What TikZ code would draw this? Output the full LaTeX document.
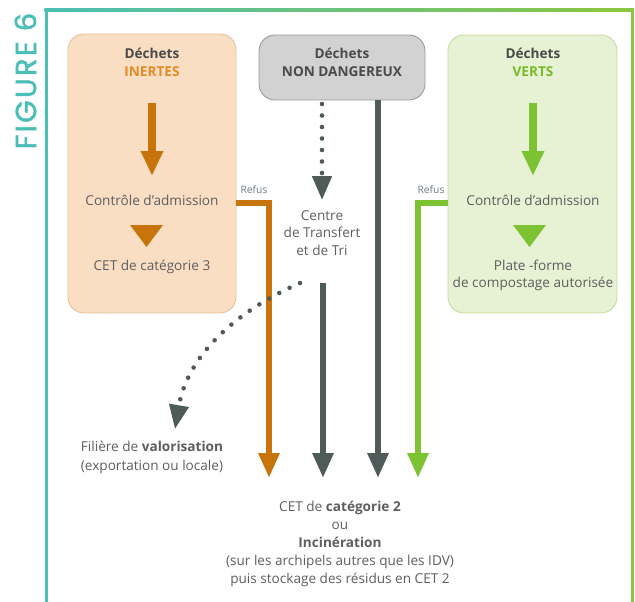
\documentclass[tikz,border=0pt]{standalone}
\usepackage{fontspec}
\setmainfont{Open Sans}
\newfontfamily\figfont{Poppins}[FakeBold=1.6, LetterSpace=8]
\usetikzlibrary{arrows.meta}
\definecolor{teal6}{HTML}{4BBFB5}
\definecolor{green6}{HTML}{8CC63F}
\definecolor{orangeA}{HTML}{C8740C}
\definecolor{orangeT}{HTML}{E38A24}
\definecolor{greenA}{HTML}{7CC233}
\definecolor{greenT}{HTML}{7AB929}
\definecolor{grayA}{HTML}{4F5B59}
\definecolor{txt}{HTML}{5E5E5E}
\definecolor{head}{HTML}{4A4A4A}
\definecolor{refus}{HTML}{6B7C88}
\definecolor{peach}{HTML}{F9DEC4}
\definecolor{peachB}{HTML}{E3C29C}
\definecolor{grayF}{HTML}{D3D2D2}
\definecolor{grayB}{HTML}{9C9C9C}
\definecolor{lgreen}{HTML}{E7F1D3}
\definecolor{lgreenB}{HTML}{C6DBA2}
\tikzset{
  box/.style={draw, line width=0.9pt, rounded corners=16pt, inner sep=0pt},
  lbl/.style={font=\fontsize{13.6}{17.5}\selectfont, text=txt, align=center, inner sep=0pt},
  hd/.style={font=\bfseries\fontsize{13.6}{18.5}\selectfont, text=head, align=center, inner sep=0pt},
  refuslbl/.style={font=\fontsize{10.3}{12}\selectfont, text=refus, inner sep=0pt},
  flow/.style={line width=6pt, -{Triangle[width=20pt,length=25pt]}},
  inner/.style={line width=8pt, -{Triangle[width=21pt,length=25pt]}},
  dots/.style={line width=4.6pt, line cap=round, dash pattern=on 0pt off 11.5pt, -{Triangle[width=19pt,length=24pt]}}
}
\begin{document}
\begin{tikzpicture}[x=1pt,y=-1pt]
\useasboundingbox (0,0) rectangle (635,602);
% frame
\shade[left color=teal6, right color=green6] (44.5,8.5) rectangle (633.5,11.5);
\fill[teal6] (44.5,8.5) rectangle (47.5,602);
\fill[green6] (630.5,8.5) rectangle (633.5,602);
\node[rotate=90, font=\figfont\fontsize{29}{29}\selectfont, text=teal6, inner sep=0pt] (fig) at (25.5,81) {FIGURE 6};
% boxes
\node[box, fill=peach, draw=peachB, minimum width=168pt, minimum height=279pt] (inertes) at (152,173.5) {};
\node[box, fill=grayF, draw=grayB, minimum width=166pt, minimum height=65pt] (nd) at (342,67.5) {};
\node[box, fill=lgreen, draw=lgreenB, minimum width=169pt, minimum height=278pt] (verts) at (532.5,174) {};
% headings
\node[hd] (h1) at (152,62.5) {Déchets\\\textcolor{orangeT}{INERTES}};
\node[hd] (h2) at (342,62.5) {Déchets\\NON DANGEREUX};
\node[hd] (h3) at (533,62.5) {Déchets\\\textcolor{greenT}{VERTS}};
% inner texts
\node[lbl] (c1) at (152,200) {Contrôle d'admission};
\node[lbl] (cet3) at (152,267) {CET de catégorie 3};
\node[lbl] (c3) at (533,200) {Contrôle d'admission};
\node[lbl] (pf) at (533,275.5) {Plate -forme\\de compostage autorisée};
\node[lbl] (ctt) at (322,233) {Centre\\de Transfert\\et de Tri};
\node[lbl, font=\fontsize{13.6}{19}\selectfont] (fil) at (152,457.5) {Filière de \textbf{valorisation}\\(exportation ou locale)};
\node[lbl, font=\fontsize{13.6}{18.2}\selectfont] (cet2) at (340,544) {CET de \textbf{catégorie 2}\\ou\\\textbf{Incinération}\\(sur les archipels autres que les IDV)\\puis stockage des résidus en CET 2};
\node[refuslbl] (r1) at (254,189.5) {Refus};
\node[refuslbl] (r2) at (431,189.5) {Refus};
% coordinates
\coordinate (i1) at (152,103);
\coordinate (i2) at (152,176);
\coordinate (v1) at (533,103);
\coordinate (v2) at (533,176);
\coordinate (o1) at (236,203);
\coordinate (o2) at (269,478);
\coordinate (g1) at (448,203);
\coordinate (g2) at (418,478);
\coordinate (d1) at (378,100);
\coordinate (d2) at (378,478);
\coordinate (e1) at (323,283);
\coordinate (e2) at (323,478);
\coordinate (t1) at (322,104);
\coordinate (t2) at (322,200);
\coordinate (s1) at (300,283);
\coordinate (s2) at (175,429);
% small triangles
\fill[orangeA] (130,225) -- (163,225) -- (146.5,247) -- cycle;
\fill[greenA] (513,225) -- (546,225) -- (529.5,247) -- cycle;
% arrows
\draw[inner, orangeA] (i1) -- (i2);
\draw[inner, greenA] (v1) -- (v2);
\draw[flow, orangeA] (o1) -| (o2);
\draw[flow, greenA] (g1) -| (g2);
\draw[flow, grayA] (d1) -- (d2);
\draw[flow, grayA] (e1) -- (e2);
\draw[dots, grayA] (t1) -- (t2);
\draw[dots, grayA] (s1) .. controls (232,313) and (187,358) .. (s2);
\end{tikzpicture}
\end{document}
